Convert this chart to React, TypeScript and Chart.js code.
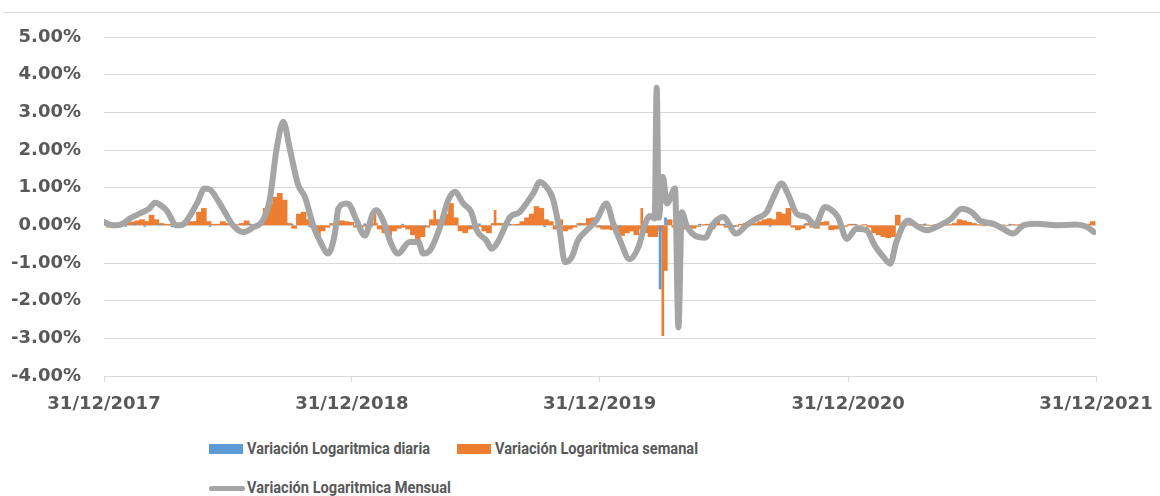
import React, { useEffect, useRef } from 'react';
import { Chart, registerables } from 'chart.js';
Chart.register(...registerables);

// x positions are days counted from 31/12/2017
const tickDays = [0, 365, 730, 1096, 1461];
const tickLabels = ['31/12/2017', '31/12/2018', '31/12/2019', '31/12/2020', '31/12/2021'];
const seriesNames = [
  'Variación Logaritmica diaria',
  'Variación Logaritmica semanal',
  'Variación Logaritmica Mensual',
];

// Monthly log variation (%), gray line
const monthlyDays = [
  0, 8, 18, 28, 38, 57, 67, 75, 82, 92,
  107, 116, 124, 138, 148, 156, 163, 178, 190, 205,
  220, 234, 244, 254, 264, 274, 286, 296, 308, 320,
  330, 340, 345, 357, 362, 372, 384, 396, 401, 411,
  423, 433, 450, 463, 470, 480, 495, 507, 517, 529,
  541, 549, 563, 571, 580, 598, 612, 622, 632, 642,
  649, 661, 671, 679, 689, 698, 711, 725, 740, 750,
  760, 774, 787, 797, 804, 811, 814, 817, 823, 829,
  841, 846, 851, 858, 870, 885, 897, 912, 931, 946,
  961, 976, 986, 998, 1008, 1020, 1035, 1047, 1062, 1069,
  1081, 1094, 1108, 1123, 1135, 1148, 1158, 1167, 1184, 1199,
  1212, 1231, 1248, 1263, 1278, 1290, 1310, 1324, 1339, 1354,
  1373, 1403, 1432, 1447, 1458,
];
const monthlyValues = [
  0.09, 0.02, 0.0, 0.05, 0.18, 0.35, 0.45, 0.6, 0.55, 0.4,
  0.0, 0.02, 0.18, 0.62, 0.98, 0.95, 0.8, 0.35, 0.0, -0.18,
  -0.05, 0.13, 0.67, 2.0, 2.75, 2.0, 1.07, 0.75, 0.0, -0.49,
  -0.75, -0.22, 0.44, 0.58, 0.53, 0.13, -0.27, 0.31, 0.4, 0.13,
  -0.49, -0.75, -0.44, -0.44, -0.75, -0.67, -0.04, 0.67, 0.89, 0.58,
  0.35, -0.13, -0.4, -0.62, -0.44, 0.22, 0.35, 0.58, 0.84, 1.15,
  1.07, 0.71, -0.13, -0.98, -0.84, -0.4, -0.13, 0.13, 0.58, 0.04,
  -0.4, -0.9, -0.58, 0.04, 0.25, 0.18, 3.65, 0.2, 1.29, 0.58,
  0.98, -2.71, 0.35, 0.0, -0.27, -0.33, 0.04, 0.22, -0.22, 0.0,
  0.18, 0.35, 0.75, 1.11, 0.8, 0.31, 0.22, 0.0, 0.49, 0.44,
  0.22, -0.36, -0.09, -0.13, -0.53, -0.84, -1.02, -0.44, 0.13, -0.04,
  -0.13, 0.0, 0.18, 0.44, 0.35, 0.13, 0.04, -0.09, -0.22, 0.0,
  0.04, 0.0, 0.02, -0.04, -0.18,
];

// Weekly log variation (%), one value per week starting at day 0
const weeklyValues = [
  0.02, -0.05, 0.03, 0.04, 0.05, 0.09, 0.09, 0.12, 0.15, 0.1,
  0.27, 0.15, 0.05, 0.03, 0.03, 0.02, 0.03, 0.1, 0.1, 0.1,
  0.35, 0.45, 0.1, 0.03, 0.03, 0.1, 0.05, 0.02, 0.02, 0.05,
  0.12, 0.02, 0.02, 0.02, 0.45, 0.55, 0.75, 0.85, 0.67, 0.05,
  -0.08, 0.3, 0.35, 0.15, -0.05, -0.35, -0.15, -0.05, 0.05, 0.12,
  0.12, 0.1, 0.08, -0.05, -0.05, -0.03, 0.03, 0.05, -0.1, -0.2,
  -0.27, -0.15, -0.08, -0.05, -0.1, -0.25, -0.4, -0.3, -0.05, 0.15,
  0.15, 0.15, 0.3, 0.58, 0.2, -0.15, -0.2, -0.1, -0.05, -0.03,
  -0.15, -0.2, 0.05, 0.05, 0.05, 0.02, 0.02, 0.03, 0.1, 0.2,
  0.3, 0.5, 0.45, 0.15, 0.1, -0.1, 0.15, -0.15, -0.1, -0.05,
  0.05, 0.05, 0.18, 0.2, -0.05, -0.1, -0.1, -0.12, -0.15, -0.27,
  -0.2, -0.15, -0.25, -0.1, -0.2, -0.3, -0.3, -0.15, -1.2, 0.15,
  -0.05, -0.08, -0.1, -0.05, -0.08, -0.03, 0.02, 0.03, -0.1, 0.1,
  0.03, -0.05, -0.05, -0.03, 0.03, 0.05, 0.04, 0.05, 0.1, 0.15,
  0.18, 0.15, 0.35, 0.3, 0.45, -0.05, -0.12, -0.08, 0.05, -0.05,
  -0.08, 0.08, 0.1, -0.12, -0.1, -0.05, -0.03, 0.03, 0.02, -0.02,
  0.02, -0.05, -0.2, -0.25, -0.3, -0.33, -0.3, 0.27, -0.03, 0.02,
  0.01, -0.02, 0.02, 0.01, -0.01, 0.02, 0.05, 0.03, 0.02, 0.05,
  0.15, 0.12, 0.08, 0.05, 0.02, -0.01, 0.01, -0.02, 0.01, 0.01,
  -0.01, 0.02, 0.01, 0.02, 0.01, -0.01, 0.02, 0.01, 0.02, 0.01,
  -0.01, 0.02, 0.01, -0.02, 0.01, -0.01, 0.02, 0.03, 0.1,
];

// Single-day weekly spikes (%)
const weeklySpikeDays = [399, 487, 576, 792, 823];
const weeklySpikeValues = [0.3, 0.4, 0.4, 0.45, -2.93];

// Daily log variation (%)
const dailyDays = [
  13, 23, 32, 45, 60, 82, 100, 119, 156, 215,
  226, 277, 303, 340, 372, 384, 394, 440, 472, 495,
  539, 553, 590, 598, 649, 701, 730, 748, 760, 819,
  827, 877, 900, 914, 929, 948, 981, 1032, 1084, 1106,
  1180, 1209, 1231, 1297, 1319, 1334, 1356, 1378, 1407, 1437,
];
const dailyValues = [
  -0.04, 0.03, -0.03, 0.04, -0.03, 0.03, -0.04, 0.03, -0.03, 0.04,
  -0.03, 0.03, -0.04, 0.03, -0.03, 0.04, -0.03, 0.03, -0.04, 0.03,
  -0.03, 0.04, -0.03, 0.03, -0.04, 0.03, -0.03, 0.04, -0.03, -1.69,
  0.2, 0.03, -0.04, 0.03, -0.03, 0.04, -0.03, 0.03, -0.04, 0.03,
  -0.03, 0.04, -0.03, 0.03, -0.04, 0.03, -0.03, 0.04, -0.03, 0.03,
];

const blue = '#5B9BD5';
const orange = '#ED7D31';
const gray = '#A5A5A5';
const textColor = '#595959';
const gridColor = '#D9D9D9';

// legend text widths in the picture (px)
const legendTextWidths = [183, 203, 204];

export default function App() {
  const ref = useRef<HTMLCanvasElement>(null);
  const legendRefs = useRef<(HTMLSpanElement | null)[]>([]);

  useEffect(() => {
    legendRefs.current.forEach((el, i) => {
      if (!el) return;
      el.style.transform = 'none';
      const w = el.getBoundingClientRect().width;
      if (w > 0) el.style.transform = `scaleX(${legendTextWidths[i] / w})`;
    });
  }, []);

  useEffect(() => {
    if (!ref.current) return;
    const tickFont = { family: "'DejaVu Sans', Verdana, sans-serif", size: 18, weight: 'bold' as const };
    const chart = new Chart(ref.current, {
      type: 'bar',
      data: {
        datasets: [
          {
            type: 'line',
            label: seriesNames[2],
            data: monthlyDays.map((d, i) => ({ x: d, y: monthlyValues[i] })),
            borderColor: gray,
            backgroundColor: gray,
            borderWidth: 6,
            pointRadius: 0,
            cubicInterpolationMode: 'monotone',
            borderJoinStyle: 'round',
            borderCapStyle: 'round',
            order: 0,
          } as any,
          {
            label: seriesNames[0],
            data: dailyDays.map((d, i) => ({ x: d, y: dailyValues[i] })),
            backgroundColor: blue,
            barThickness: 2,
            grouped: false,
            order: 1,
          } as any,
          {
            label: seriesNames[1],
            data: weeklySpikeDays.map((d, i) => ({ x: d, y: weeklySpikeValues[i] })),
            backgroundColor: orange,
            barThickness: 2,
            grouped: false,
            order: 2,
          } as any,
          {
            label: seriesNames[1],
            data: weeklyValues.map((v, i) => ({ x: i * 7, y: v })),
            backgroundColor: orange,
            barThickness: 5,
            grouped: false,
            order: 3,
          } as any,
        ],
      },
      options: {
        animation: false,
        responsive: true,
        maintainAspectRatio: false,
        layout: { padding: { top: 37, right: 64, left: 0, bottom: 0 } },
        plugins: { legend: { display: false }, tooltip: { enabled: false } },
        scales: {
          x: {
            type: 'linear',
            min: 0,
            max: 1461,
            offset: false,
            grid: {
              display: true,
              drawOnChartArea: false,
              drawTicks: true,
              tickLength: 6,
              color: gridColor,
              offset: false,
            },
            border: { display: true, color: gridColor, width: 1 },
            afterBuildTicks: (s: any) => {
              s.ticks = tickDays.map((v) => ({ value: v }));
            },
            afterFit: (s: any) => {
              s.height = 44;
              s.paddingLeft = 0;
              s.paddingRight = 0;
            },
            ticks: {
              autoSkip: false,
              maxRotation: 0,
              minRotation: 0,
              color: textColor,
              font: tickFont,
              padding: 12,
              callback: (v: any) => {
                const i = tickDays.indexOf(Number(v));
                return i >= 0 ? tickLabels[i] : '';
              },
            },
          } as any,
          y: {
            min: -4,
            max: 5,
            grid: { color: gridColor, drawTicks: false },
            border: { display: false },
            afterFit: (s: any) => {
              s.width = 104;
              s.paddingTop = 0;
              s.paddingBottom = 0;
            },
            ticks: {
              stepSize: 1,
              color: textColor,
              font: tickFont,
              padding: 23,
              callback: (v: any) => Number(v).toFixed(2) + '%',
            },
          } as any,
        },
      },
    });
    return () => chart.destroy();
  }, []);

  const legendFont: React.CSSProperties = {
    position: 'absolute',
    display: 'inline-block',
    fontFamily: "Roboto, 'Liberation Sans', sans-serif",
    fontSize: 16,
    fontWeight: 700,
    color: textColor,
    lineHeight: '20px',
    whiteSpace: 'nowrap',
    transformOrigin: 'left center',
  };

  return (
    <div
      style={{
        position: 'fixed',
        left: 0,
        top: 0,
        width: 1160,
        height: 496,
        background: '#fff',
        overflow: 'hidden',
      }}
    >
      <div style={{ position: 'absolute', left: 4, right: 0, top: 12, height: 1, background: gridColor }} />
      <div style={{ position: 'absolute', left: 0, top: 0, width: 1160, height: 420 }}>
        <canvas ref={ref} />
      </div>
      <div style={{ position: 'absolute', left: 209, top: 444, width: 34, height: 10, background: blue }} />
      <span ref={(el) => { legendRefs.current[0] = el; }} style={{ ...legendFont, left: 247, top: 439 }}>
        {seriesNames[0]}
      </span>
      <div style={{ position: 'absolute', left: 457, top: 444, width: 34, height: 10, background: orange }} />
      <span ref={(el) => { legendRefs.current[1] = el; }} style={{ ...legendFont, left: 495, top: 439 }}>
        {seriesNames[1]}
      </span>
      <div style={{ position: 'absolute', left: 209, top: 486, width: 36, height: 5, background: gray, borderRadius: 2 }} />
      <span ref={(el) => { legendRefs.current[2] = el; }} style={{ ...legendFont, left: 247, top: 478 }}>
        {seriesNames[2]}
      </span>
    </div>
  );
}
